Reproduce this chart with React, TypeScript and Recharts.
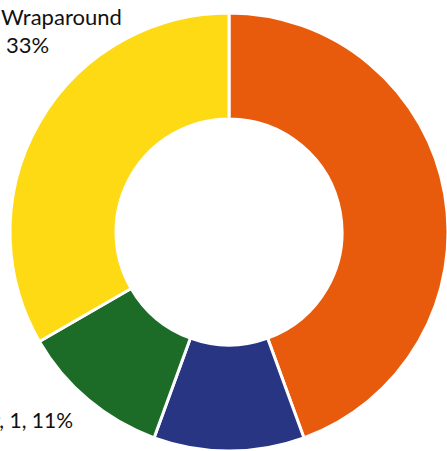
import * as React from 'react';
import { PieChart, Pie, Cell } from 'recharts';

const categories = ['Standard', 'Strip', 'Other', 'Wraparound'];
const values = [4, 1, 1, 3];
const colors = ['#E95B0C', '#283583', '#1C6B27', '#FDDA13'];

const total = values.reduce((a, b) => a + b, 0);
const data = categories.map((name, i) => ({ name, value: values[i] }));

const FONT = 'Lato, "Open Sans", sans-serif';

function renderLabel(props: any) {
  const { cx, cy, index } = props;
  const pct = Math.round((values[index] / total) * 100);
  if (index === 3) {
    return (
      <text x={cx - 228} y={cy - 207} fill="#111" fontSize={22} fontFamily={FONT} textAnchor="start">
        <tspan x={cx - 228}>{categories[index]}</tspan>
        <tspan x={cx - 223} dy={28}>{`${pct}%`}</tspan>
      </text>
    );
  }
  if (index === 2) {
    return (
      <text x={cx - 156} y={cy + 196} fill="#111" fontSize={21} fontFamily={FONT} textAnchor="end">
        {`${categories[index]}, ${values[index]}, ${pct}%`}
      </text>
    );
  }
  return null;
}

export default function App() {
  return (
    <div style={{ position: 'absolute', left: 0, top: 0, width: 447, height: 451, background: '#fff', overflow: 'hidden' }}>
      <PieChart width={447} height={451} margin={{ top: 0, right: 0, bottom: 0, left: 0 }}>
        <Pie
          data={data}
          dataKey="value"
          nameKey="name"
          cx={229}
          cy={232}
          innerRadius={113}
          outerRadius={219}
          startAngle={90}
          endAngle={-270}
          stroke="#ffffff"
          strokeWidth={3}
          label={renderLabel}
          labelLine={false}
          isAnimationActive={false}
        >
          {data.map((d, i) => (
            <Cell key={d.name} fill={colors[i]} />
          ))}
        </Pie>
      </PieChart>
    </div>
  );
}
